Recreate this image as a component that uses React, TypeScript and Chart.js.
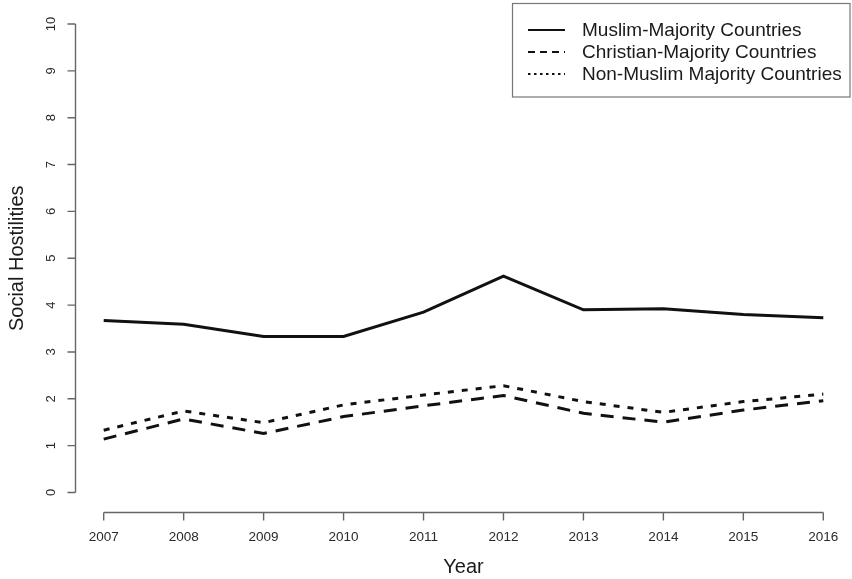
import React, { useEffect, useRef } from "react";
import { Chart, registerables } from "chart.js";

Chart.register(...registerables);

const years = [2007, 2008, 2009, 2010, 2011, 2012, 2013, 2014, 2015, 2016];
const muslimMajority = [3.67, 3.59, 3.33, 3.33, 3.85, 4.62, 3.9, 3.92, 3.8, 3.73];
const christianMajority = [1.14, 1.57, 1.26, 1.62, 1.85, 2.07, 1.69, 1.5, 1.76, 1.96];
const nonMuslimMajority = [1.33, 1.74, 1.49, 1.87, 2.08, 2.28, 1.94, 1.71, 1.94, 2.1];
const seriesLabels = [
  "Muslim-Majority Countries",
  "Christian-Majority Countries",
  "Non-Muslim Majority Countries",
];
const yTickValues = [0, 1, 2, 3, 4, 5, 6, 7, 8, 9, 10];
const xTitle = "Year";
const yTitle = "Social Hostilities";

const FONT = "'Liberation Sans', Arial, Helvetica, sans-serif";

const rAxesPlugin = {
  id: "rAxes",
  afterDraw(chart: any) {
    const ctx = chart.ctx;
    const xs = chart.scales.x;
    const ys = chart.scales.y;
    const axisColor = "#666";
    ctx.save();
    // Y axis
    const yAxisX = 75.5;
    const y0 = ys.getPixelForValue(yTickValues[0]);
    const y1 = ys.getPixelForValue(yTickValues[yTickValues.length - 1]);
    ctx.strokeStyle = axisColor;
    ctx.lineWidth = 1.4;
    ctx.beginPath();
    ctx.moveTo(yAxisX, y0);
    ctx.lineTo(yAxisX, y1);
    yTickValues.forEach((v) => {
      const py = ys.getPixelForValue(v);
      ctx.moveTo(yAxisX, py);
      ctx.lineTo(yAxisX - 8, py);
    });
    ctx.stroke();
    ctx.fillStyle = "#2a2a2a";
    ctx.font = `13px ${FONT}`;
    ctx.textAlign = "center";
    ctx.textBaseline = "middle";
    yTickValues.forEach((v) => {
      const py = ys.getPixelForValue(v);
      ctx.save();
      ctx.translate(51, py);
      ctx.rotate(-Math.PI / 2);
      ctx.fillText(String(v), 0, 0);
      ctx.restore();
    });
    // X axis
    const xAxisY = 512.5;
    const xa = xs.getPixelForValue(years[0]);
    const xb = xs.getPixelForValue(years[years.length - 1]);
    ctx.beginPath();
    ctx.moveTo(xa, xAxisY);
    ctx.lineTo(xb, xAxisY);
    years.forEach((yr) => {
      const px = xs.getPixelForValue(yr);
      ctx.moveTo(px, xAxisY);
      ctx.lineTo(px, xAxisY + 8);
    });
    ctx.stroke();
    ctx.font = `13.5px ${FONT}`;
    years.forEach((yr) => {
      const px = xs.getPixelForValue(yr);
      ctx.fillText(String(yr), px, 537.5);
    });
    // Titles
    ctx.fillStyle = "#1a1a1a";
    ctx.font = `20px ${FONT}`;
    ctx.fillText(xTitle, (xa + xb) / 2, 567);
    ctx.save();
    ctx.translate(17, (y0 + y1) / 2);
    ctx.rotate(-Math.PI / 2);
    ctx.fillText(yTitle, 0, 0);
    ctx.restore();
    // Legend
    ctx.strokeStyle = "#777";
    ctx.lineWidth = 1.2;
    ctx.strokeRect(512.5, 3.5, 337.5, 93.5);
    ctx.font = `19px ${FONT}`;
    ctx.textAlign = "left";
    ctx.fillStyle = "#1a1a1a";
    chart.data.datasets.forEach((ds: any, i: number) => {
      const ly = 30 + i * 22;
      ctx.save();
      ctx.strokeStyle = "#111";
      ctx.lineWidth = 2;
      ctx.setLineDash(i === 0 ? [] : i === 1 ? [7, 5] : [2.5, 3.5]);
      ctx.beginPath();
      ctx.moveTo(528, ly);
      ctx.lineTo(565, ly);
      ctx.stroke();
      ctx.restore();
      ctx.fillText(ds.label, 582, ly + 1);
    });
    ctx.restore();
  },
};

export default function App() {
  const canvasRef = useRef<HTMLCanvasElement | null>(null);

  useEffect(() => {
    document.body.style.margin = "0";
    const canvas = canvasRef.current;
    if (!canvas) return;
    const toPts = (vals: number[]) => years.map((yr, i) => ({ x: yr, y: vals[i] }));
    const chart = new Chart(canvas, {
      type: "line",
      data: {
        datasets: [
          {
            label: seriesLabels[0],
            data: toPts(muslimMajority),
            borderColor: "#111",
            borderWidth: 3,
            pointRadius: 0,
            tension: 0,
            clip: false as any,
          },
          {
            label: seriesLabels[1],
            data: toPts(christianMajority),
            borderColor: "#111",
            borderWidth: 3,
            borderDash: [13, 9],
            pointRadius: 0,
            tension: 0,
            clip: false as any,
          },
          {
            label: seriesLabels[2],
            data: toPts(nonMuslimMajority),
            borderColor: "#111",
            borderWidth: 3,
            borderDash: [6, 8],
            pointRadius: 0,
            tension: 0,
            clip: false as any,
          },
        ],
      },
      options: {
        responsive: false,
        animation: false,
        devicePixelRatio: 1,
        layout: { padding: { left: 103.7, right: 28.7, top: 24, bottom: 86.5 } },
        plugins: { legend: { display: false }, tooltip: { enabled: false } },
        scales: {
          x: { type: "linear", min: 2007, max: 2016, display: false, ticks: { stepSize: 1 } },
          y: { type: "linear", min: 0, max: 10, display: false, ticks: { stepSize: 1 } },
        },
      },
      plugins: [rAxesPlugin],
    });
    return () => chart.destroy();
  }, []);

  return (
    <div style={{ width: 852, height: 579, background: "#fff" }}>
      <canvas ref={canvasRef} width={852} height={579} />
    </div>
  );
}
